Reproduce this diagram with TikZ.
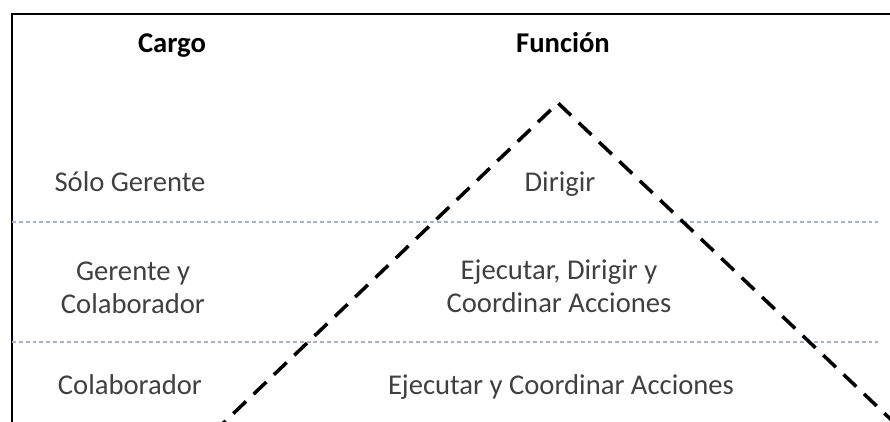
\documentclass[tikz,border=0pt]{standalone}
\usepackage{fontspec}
\setmainfont{Carlito}
\usetikzlibrary{positioning}
\definecolor{txtGrey}{RGB}{64,64,64}
\definecolor{sepBlue}{RGB}{165,178,212}

\begin{document}
\begin{tikzpicture}[x=0.02cm,y=-0.02cm,
      hd/.style={font=\fontsize{16.3}{19}\selectfont\bfseries,text=black,anchor=base},
      lbl/.style={font=\fontsize{16.3}{18.6}\selectfont,text=txtGrey,align=center,inner sep=0pt},
      sep/.style={draw=sepBlue,line width=0.8pt,dash pattern=on 2.2pt off 1.7pt},
      pyr/.style={draw=black,line width=2pt,dash pattern=on 10pt off 6pt}]
    \useasboundingbox (0,0) rectangle (890,422);
    % frame
    \draw[line width=1.3pt] (12,422) -- (12,14) -- (890,14);
    % rows
    \draw[sep] (12,222) -- (878,222);
    \draw[sep] (12,342) -- (878,342);
    % pyramid
    \begin{scope}
      \clip (12,14) rectangle (890,422);
      \coordinate (top) at (558,103);
      \draw[pyr] (top) ++(-345,330) -- (top) -- ++(345,328);
    \end{scope}
    \node[hd] (cargo) at (172,53) {Cargo};
    \node[hd] (funcion) at (563,53) {Función};
    \node[lbl,anchor=base] (g1) at (130,192) {Sólo Gerente};
    \node[lbl] (g2) at (133,288) {Gerente y\\ Colaborador};
    \node[lbl,anchor=base] (g3) at (130,395) {Colaborador};
    \node[lbl,anchor=base] (f1) at (560,192) {Dirigir};
    \node[lbl] (f2) at (559,286) {Ejecutar, Dirigir y\\ Coordinar Acciones};
    \node[lbl,anchor=base] (f3) at (561,395) {Ejecutar y Coordinar Acciones};
  \end{tikzpicture}
\end{document}
